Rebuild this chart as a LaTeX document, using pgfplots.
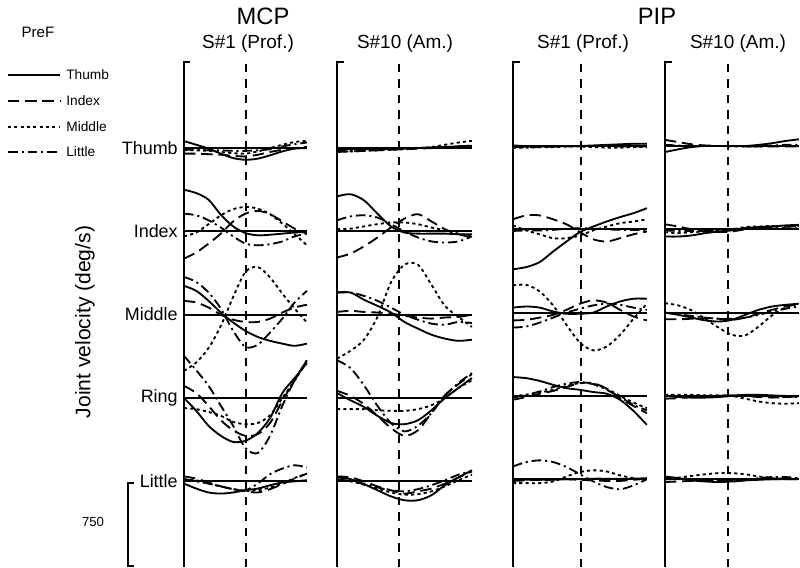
\documentclass[border=0pt]{standalone}
\usepackage{fontspec}
\setmainfont{Liberation Sans}
\usepackage{pgfplots}
\pgfplotsset{compat=1.18}

% one pixel of the 800x567 reference = 0.02cm; curves in deg/s, rows 750 deg/s apart
\pgfplotsset{
  panel/.style={scale only axis, hide axis, clip=false, no markers,
    height=10.1cm, xmin=0, xmax=100, anchor=south west},
  S1/.style={black, line width=1.05pt, smooth, solid},
  S2/.style={black, line width=1.05pt, smooth, dash pattern=on 6.5pt off 3.3pt},
  S3/.style={black, line width=1.05pt, smooth, dash pattern=on 1.8pt off 1.8pt},
  S4/.style={black, line width=1.05pt, smooth, dash pattern=on 5.5pt off 2.2pt on 1.2pt off 2.2pt},
  base/.style={black, line width=1.05pt, solid},
  VD/.style={black, line width=1.05pt, dash pattern=on 4.8pt off 4pt},
  o0/.style={},
  o1/.style={y filter/.expression={y-750}},
  o2/.style={y filter/.expression={y-1500}},
  o3/.style={y filter/.expression={y-2250}},
  o4/.style={y filter/.expression={y-3000}},
}
\newcommand{\baselines}{%
  \addplot[base] coordinates {(0,0) (100,0)};
  \addplot[base] coordinates {(0,-750) (100,-750)};
  \addplot[base] coordinates {(0,-1500) (100,-1500)};
  \addplot[base] coordinates {(0,-2250) (100,-2250)};
  \addplot[base] coordinates {(0,-3000) (100,-3000)};
  \draw[line width=1pt] (rel axis cs:0.05,1) -- (rel axis cs:0,1) -- (rel axis cs:0,0);
}

\begin{document}
\begin{tikzpicture}[x=0.02cm,y=0.02cm]
\path (0,0) rectangle (800,567);

% ---------------- MCP, S#1 ----------------
\begin{axis}[panel, at={(3.68cm,0cm)}, width=2.46cm, ymin=-3771, ymax=774]
\baselines
\addplot[VD] coordinates {(50.4,-3771) (50.4,774)};
\addplot[S1,o0] coordinates {(0,63)(10,30)(20,-5)(30,-50)(40,-90)(50,-105)(60,-95)(70,-65)(80,-30)(90,-5)(100,0)};
\addplot[S2,o0] coordinates {(0,-50)(10,-50)(20,-55)(30,-60)(40,-70)(50,-75)(60,-60)(70,-35)(80,-15)(90,0)(100,10)};
\addplot[S3,o0] coordinates {(0,-20)(10,-20)(20,-25)(30,-35)(40,-45)(50,-50)(60,-30)(70,0)(80,30)(90,55)(100,65)};
\addplot[S4,o0] coordinates {(0,-15)(10,-15)(20,-20)(30,-20)(40,-25)(50,-25)(60,-20)(70,-10)(80,15)(90,35)(100,50)};
\addplot[S1,o1] coordinates {(0,375)(10,345)(20,285)(30,150)(40,45)(50,-15)(60,-35)(70,-30)(80,-20)(90,-10)(100,-5)};
\addplot[S2,o1] coordinates {(0,-245)(10,-190)(20,-110)(30,-20)(40,90)(50,160)(60,185)(70,155)(80,90)(90,25)(100,-20)};
\addplot[S3,o1] coordinates {(0,-45)(10,-10)(20,65)(30,145)(40,200)(50,220)(60,205)(70,155)(80,70)(90,-25)(100,-125)};
\addplot[S4,o1] coordinates {(0,160)(10,145)(20,100)(30,35)(40,-45)(50,-110)(60,-125)(70,-115)(80,-90)(90,-45)(100,-20)};
\addplot[S1,o2] coordinates {(0,260)(10,215)(20,125)(30,20)(40,-70)(50,-145)(60,-200)(70,-235)(80,-260)(90,-280)(100,-260)};
\addplot[S2,o2] coordinates {(0,125)(10,110)(20,65)(30,0)(40,-45)(50,-65)(60,-65)(70,-35)(80,20)(90,65)(100,90)};
\addplot[S3,o2] coordinates {(0,-505)(10,-430)(20,-300)(30,-100)(40,160)(50,385)(60,430)(70,335)(80,190)(90,55)(100,-70)};
\addplot[S4,o2] coordinates {(0,340)(10,295)(20,200)(30,55)(40,-145)(50,-290)(60,-270)(70,-160)(80,-35)(90,110)(100,215)};
\addplot[S1,o3] coordinates {(0,0)(10,-115)(20,-250)(30,-340)(40,-395)(50,-385)(60,-315)(70,-180)(80,45)(90,180)(100,315)};
\addplot[S2,o3] coordinates {(0,110)(10,45)(20,-70)(30,-200)(40,-290)(50,-340)(60,-325)(70,-225)(80,-25)(90,160)(100,340)};
\addplot[S3,o3] coordinates {(0,-90)(10,-100)(20,-125)(30,-160)(40,-215)(50,-235)(60,-225)(70,-155)(80,0)(90,160)(100,325)};
\addplot[S4,o3] coordinates {(0,380)(10,250)(20,110)(30,-70)(40,-250)(50,-450)(60,-495)(70,-340)(80,-70)(90,160)(100,340)};
\addplot[S1,o4] coordinates {(0,-20)(10,-65)(20,-100)(30,-110)(40,-100)(50,-80)(60,-65)(70,-35)(80,-10)(90,0)(100,10)};
\addplot[S2,o4] coordinates {(0,45)(10,25)(20,-10)(30,-45)(40,-70)(50,-90)(60,-100)(70,-70)(80,-25)(90,25)(100,70)};
\addplot[S3,o4] coordinates {(0,20)(10,10)(20,-20)(30,-45)(40,-70)(50,-85)(60,-80)(70,-55)(80,-20)(90,30)(100,70)};
\addplot[S4,o4] coordinates {(0,20)(10,0)(20,-20)(30,-45)(40,-70)(50,-80)(60,-20)(70,65)(80,115)(90,145)(100,125)};
\end{axis}

% ---------------- MCP, S#10 ----------------
\begin{axis}[panel, at={(6.74cm,0cm)}, width=2.7cm, ymin=-3771, ymax=774]
\baselines
\addplot[VD] coordinates {(46,-3771) (46,774)};
\addplot[S1,o0] coordinates {(0,-15)(10,-10)(20,-10)(30,-10)(40,-5)(50,0)(60,0)(70,5)(80,10)(90,15)(100,20)};
\addplot[S2,o0] coordinates {(0,-35)(10,-30)(20,-25)(30,-20)(40,-15)(50,-10)(60,-5)(70,0)(80,5)(90,15)(100,20)};
\addplot[S3,o0] coordinates {(0,-30)(10,-30)(20,-25)(30,-20)(40,-15)(50,-10)(60,0)(70,10)(80,30)(90,50)(100,65)};
\addplot[S4,o0] coordinates {(0,-20)(10,-20)(20,-15)(30,-15)(40,-10)(50,-5)(60,0)(70,5)(80,10)(90,15)(100,25)};
\addplot[S1,o1] coordinates {(0,315)(10,335)(20,280)(30,160)(40,45)(50,-10)(60,-20)(70,-20)(80,-20)(90,-25)(100,-25)};
\addplot[S2,o1] coordinates {(0,-235)(10,-200)(20,-135)(30,-55)(40,35)(50,115)(60,155)(70,90)(80,20)(90,-25)(100,-55)};
\addplot[S3,o1] coordinates {(0,20)(10,25)(20,45)(30,65)(40,80)(50,80)(60,65)(70,35)(80,10)(90,-20)(100,-45)};
\addplot[S4,o1] coordinates {(0,100)(10,135)(20,145)(30,125)(40,65)(50,0)(60,-55)(70,-90)(80,-100)(90,-90)(100,-45)};
\addplot[S1,o2] coordinates {(0,200)(10,200)(20,135)(30,80)(40,20)(50,-65)(60,-125)(70,-180)(80,-215)(90,-235)(100,-225)};
\addplot[S2,o2] coordinates {(0,25)(10,35)(20,25)(30,20)(40,10)(50,-10)(60,-25)(70,-35)(80,-25)(90,-20)(100,0)};
\addplot[S3,o2] coordinates {(0,-395)(10,-325)(20,-225)(30,-20)(40,290)(50,450)(60,450)(70,270)(80,80)(90,-20)(100,-110)};
\addplot[S4,o2] coordinates {(0,200)(10,200)(20,170)(30,125)(40,65)(50,0)(60,-45)(70,-80)(80,-90)(90,-65)(100,-75)};
\addplot[S1,o3] coordinates {(0,45)(10,-20)(20,-80)(30,-160)(40,-225)(50,-235)(60,-200)(70,-110)(80,0)(90,90)(100,180)};
\addplot[S2,o3] coordinates {(0,65)(10,20)(20,-55)(30,-160)(40,-270)(50,-340)(60,-290)(70,-135)(80,25)(90,125)(100,215)};
\addplot[S3,o3] coordinates {(0,-100)(10,-100)(20,-100)(30,-110)(40,-115)(50,-115)(60,-100)(70,-65)(80,0)(90,90)(100,160)};
\addplot[S4,o3] coordinates {(0,340)(10,270)(20,115)(30,-70)(40,-225)(50,-300)(60,-250)(70,-135)(80,20)(90,135)(100,225)};
\addplot[S1,o4] coordinates {(0,35)(10,20)(20,-25)(30,-80)(40,-135)(50,-170)(60,-170)(70,-125)(80,-35)(90,35)(100,100)};
\addplot[S2,o4] coordinates {(0,45)(10,35)(20,0)(30,-45)(40,-80)(50,-110)(60,-90)(70,-65)(80,-20)(90,35)(100,90)};
\addplot[S3,o4] coordinates {(0,10)(10,0)(20,-30)(30,-65)(40,-100)(50,-120)(60,-115)(70,-90)(80,-45)(90,10)(100,60)};
\addplot[S4,o4] coordinates {(0,15)(10,5)(20,-25)(30,-55)(40,-80)(50,-90)(60,-70)(70,-35)(80,10)(90,60)(100,90)};
\end{axis}

% ---------------- PIP, S#1 ----------------
\begin{axis}[panel, at={(10.26cm,0cm)}, width=2.68cm, ymin=-3790, ymax=755]
\baselines
\addplot[VD] coordinates {(50.7,-3790) (50.7,755)};
\addplot[S1,o0] coordinates {(0,-5)(10,-5)(20,-5)(30,-5)(40,0)(50,0)(60,5)(70,10)(80,15)(90,20)(100,20)};
\addplot[S2,o0] coordinates {(0,-10)(10,-10)(20,-10)(30,-5)(40,-5)(50,0)(60,0)(70,0)(80,-5)(90,-5)(100,-5)};
\addplot[S3,o0] coordinates {(0,-15)(10,-15)(20,-10)(30,-10)(40,-5)(50,-5)(60,-10)(70,-15)(80,-15)(90,-10)(100,-10)};
\addplot[S4,o0] coordinates {(0,5)(10,0)(20,0)(30,0)(40,0)(50,0)(60,0)(70,5)(80,5)(90,5)(100,5)};
\addplot[S1,o1] coordinates {(0,-360)(10,-340)(20,-295)(30,-200)(40,-110)(50,-25)(60,25)(70,70)(80,110)(90,145)(100,190)};
\addplot[S2,o1] coordinates {(0,90)(10,125)(20,125)(30,90)(40,45)(50,-25)(60,-90)(70,-110)(80,-80)(90,-45)(100,-20)};
\addplot[S3,o1] coordinates {(0,35)(10,-10)(20,-45)(30,-80)(40,-80)(50,-55)(60,-10)(70,25)(80,55)(90,70)(100,90)};
\addplot[S4,o1] coordinates {(0,-15)(10,-10)(20,-10)(30,-5)(40,5)(50,10)(60,5)(70,0)(80,-5)(90,-5)(100,-5)};
\addplot[S1,o2] coordinates {(0,45)(10,55)(20,45)(30,10)(40,-10)(50,-10)(60,0)(70,55)(80,100)(90,125)(100,125)};
\addplot[S2,o2] coordinates {(0,-70)(10,-65)(20,-45)(30,-20)(40,25)(50,80)(60,110)(70,90)(80,25)(90,-35)(100,-70)};
\addplot[S3,o2] coordinates {(0,245)(10,250)(20,190)(30,65)(40,-110)(50,-270)(60,-340)(70,-305)(80,-200)(90,-55)(100,80)};
\addplot[S4,o2] coordinates {(0,-135)(10,-125)(20,-90)(30,-45)(40,0)(50,35)(60,65)(70,80)(80,70)(90,45)(100,25)};
\addplot[S1,o3] coordinates {(0,170)(10,160)(20,135)(30,100)(40,70)(50,55)(60,35)(70,20)(80,-35)(90,-135)(100,-260)};
\addplot[S2,o3] coordinates {(0,-35)(10,-10)(20,20)(30,45)(40,80)(50,115)(60,115)(70,65)(80,-20)(90,-90)(100,-155)};
\addplot[S3,o3] coordinates {(0,0)(10,10)(20,30)(30,55)(40,90)(50,115)(60,110)(70,65)(80,0)(90,-60)(100,-110)};
\addplot[S4,o3] coordinates {(0,-15)(10,10)(20,40)(30,80)(40,110)(50,125)(60,105)(70,55)(80,-10)(90,-80)(100,-130)};
\addplot[S1,o4] coordinates {(0,-5)(10,-5)(20,-5)(30,-5)(40,0)(50,0)(60,5)(70,5)(80,5)(90,5)(100,10)};
\addplot[S2,o4] coordinates {(0,-15)(10,-10)(20,-5)(30,0)(40,0)(50,-5)(60,-10)(70,-15)(80,-15)(90,-5)(100,5)};
\addplot[S3,o4] coordinates {(0,-35)(10,-35)(20,-35)(30,-20)(40,25)(50,65)(60,80)(70,70)(80,35)(90,10)(100,-10)};
\addplot[S4,o4] coordinates {(0,115)(10,155)(20,170)(30,155)(40,110)(50,45)(60,-20)(70,-70)(80,-90)(90,-55)(100,0)};
\end{axis}

% ---------------- PIP, S#10 ----------------
\begin{axis}[panel, at={(13.3cm,0cm)}, width=2.68cm, ymin=-3790, ymax=755]
\baselines
\addplot[VD] coordinates {(47.4,-3790) (47.4,755)};
\addplot[S1,o0] coordinates {(0,-55)(10,-30)(20,-10)(30,0)(40,0)(50,0)(60,0)(70,10)(80,25)(90,45)(100,60)};
\addplot[S2,o0] coordinates {(0,55)(10,35)(20,15)(30,5)(40,0)(50,0)(60,0)(70,-5)(80,-5)(90,-5)(100,-5)};
\addplot[S3,o0] coordinates {(0,0)(10,0)(20,0)(30,0)(40,0)(50,-5)(60,-5)(70,-5)(80,0)(90,0)(100,0)};
\addplot[S4,o0] coordinates {(0,10)(10,5)(20,0)(30,0)(40,0)(50,0)(60,-5)(70,0)(80,5)(90,10)(100,10)};
\addplot[S1,o1] coordinates {(0,-65)(10,-65)(20,-55)(30,-35)(40,-20)(50,-10)(60,10)(70,20)(80,25)(90,35)(100,40)};
\addplot[S2,o1] coordinates {(0,45)(10,25)(20,0)(30,-20)(40,-25)(50,-20)(60,0)(70,10)(80,25)(90,25)(100,25)};
\addplot[S3,o1] coordinates {(0,-25)(10,-35)(20,-25)(30,-20)(40,-10)(50,0)(60,20)(70,25)(80,30)(90,30)(100,30)};
\addplot[S4,o1] coordinates {(0,-10)(10,-15)(20,-15)(30,-10)(40,-5)(50,0)(60,10)(70,15)(80,15)(90,10)(100,10)};
\addplot[S1,o2] coordinates {(0,0)(10,-20)(20,-45)(30,-70)(40,-80)(50,-65)(60,-20)(70,25)(80,55)(90,70)(100,80)};
\addplot[S2,o2] coordinates {(0,-60)(10,-60)(20,-55)(30,-50)(40,-55)(50,-65)(60,-45)(70,-10)(80,25)(90,55)(100,75)};
\addplot[S3,o2] coordinates {(0,85)(10,65)(20,20)(30,-55)(40,-135)(50,-200)(60,-205)(70,-125)(80,-25)(90,45)(100,80)};
\addplot[S4,o2] coordinates {(0,0)(10,-15)(20,-30)(30,-45)(40,-55)(50,-55)(60,-45)(70,-20)(80,10)(90,35)(100,55)};
\addplot[S1,o3] coordinates {(0,0)(10,-10)(20,-15)(30,-15)(40,-10)(50,0)(60,10)(70,10)(80,5)(90,0)(100,0)};
\addplot[S2,o3] coordinates {(0,-25)(10,-20)(20,-10)(30,-5)(40,0)(50,5)(60,0)(70,-10)(80,-15)(90,-10)(100,-5)};
\addplot[S3,o3] coordinates {(0,10)(10,10)(20,10)(30,5)(40,5)(50,0)(60,-25)(70,-50)(80,-65)(90,-70)(100,-65)};
\addplot[S4,o3] coordinates {(0,0)(10,0)(20,-5)(30,-5)(40,0)(50,5)(60,5)(70,0)(80,-5)(90,-10)(100,-10)};
\addplot[S1,o4] coordinates {(0,25)(10,10)(20,-10)(30,-20)(40,-25)(50,-20)(60,-10)(70,-5)(80,0)(90,0)(100,0)};
\addplot[S2,o4] coordinates {(0,-25)(10,-20)(20,-15)(30,-15)(40,-15)(50,-20)(60,-10)(70,0)(80,0)(90,0)(100,0)};
\addplot[S3,o4] coordinates {(0,10)(10,15)(20,30)(30,45)(40,55)(50,55)(60,45)(70,25)(80,10)(90,5)(100,5)};
\addplot[S4,o4] coordinates {(0,0)(10,0)(20,0)(30,-5)(40,-10)(50,-10)(60,-5)(70,10)(80,20)(90,20)(100,10)};
\end{axis}

% titles
\node[font=\fontsize{13.5}{16}\selectfont] at (263,551) {MCP};
\node[font=\fontsize{13.5}{16}\selectfont] at (657,551) {PIP};
\node[font=\fontsize{10.8}{13}\selectfont] at (248,523) {S\#1 (Prof.)};
\node[font=\fontsize{10.8}{13}\selectfont] at (405,523) {S\#10 (Am.)};
\node[font=\fontsize{10.8}{13}\selectfont] at (583,523) {S\#1 (Prof.)};
\node[font=\fontsize{10.8}{13}\selectfont] at (738,523) {S\#10 (Am.)};

% row labels
\begin{scope}[every node/.style={anchor=east, inner sep=0pt, font=\fontsize{10.2}{12}\selectfont}]
\node at (178,419) {Thumb};
\node at (178,336) {Index};
\node at (178,253) {Middle};
\node at (178,169) {Ring};
\node at (178,86) {Little};
\end{scope}

\node[rotate=90, font=\fontsize{12}{14}\selectfont] at (85,245) {Joint velocity (deg/s)};

% legend
\node[font=\fontsize{8.6}{10}\selectfont] at (38,535) {PreF};
\draw[black, line width=1.05pt] (8,492) -- (60,492);
\draw[black, line width=1.05pt, dash pattern=on 6.5pt off 3.3pt] (8,466) -- (60,466);
\draw[black, line width=1.05pt, dash pattern=on 1.8pt off 1.8pt] (8,440) -- (60,440);
\draw[black, line width=1.05pt, dash pattern=on 5.5pt off 2.2pt on 1.2pt off 2.2pt] (8,415) -- (60,415);
\begin{scope}[every node/.style={anchor=west, inner sep=0pt, font=\fontsize{7.8}{9}\selectfont}]
\node at (66,492) {Thumb};
\node at (66,466) {Index};
\node at (66,440) {Middle};
\node at (66,415) {Little};
\end{scope}

% scale bar
\draw[line width=1pt] (134,84) -- (128,84) -- (128,1) -- (134,1);
\node[font=\fontsize{7.5}{9}\selectfont] at (93,45) {750};
\end{tikzpicture}
\end{document}
